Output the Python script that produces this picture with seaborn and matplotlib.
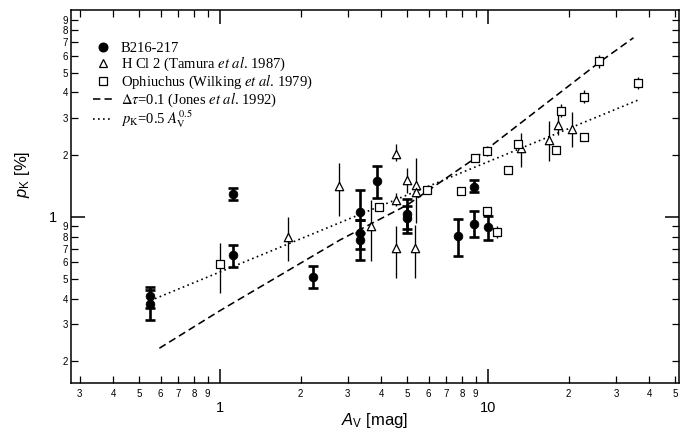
import numpy as np
import pandas as pd
import matplotlib
matplotlib.use("Agg")
import matplotlib.pyplot as plt
import seaborn as sns
from matplotlib.ticker import FixedLocator, FixedFormatter
from matplotlib.lines import Line2D

# ---------------- data ----------------
# B216-217 (filled circles)
b216_av = [0.55, 0.55, 1.115, 1.115, 2.23, 3.33, 3.33, 3.33, 3.86, 4.97, 4.97, 7.75, 8.87, 8.87, 9.98]
b216_pk = [0.41, 0.375, 1.29, 0.65, 0.51, 1.05, 0.83, 0.77, 1.49, 1.03, 0.99, 0.81, 0.925, 1.40, 0.89]
b216_lo = [0.36, 0.314, 1.20, 0.57, 0.45, 0.967, 0.70, 0.618, 1.23, 0.87, 0.83, 0.647, 0.797, 1.31, 0.773]
b216_hi = [0.457, 0.44, 1.378, 0.73, 0.574, 1.34, 0.967, 0.833, 1.755, 1.22, 1.13, 0.974, 1.06, 1.51, 1.01]

# H Cl 2 (Tamura et al. 1987) (open triangles)
hcl_av = [1.80, 2.78, 3.67, 4.52, 4.55, 4.97, 5.39, 5.39, 4.54, 5.34, 13.3, 16.9, 18.3, 20.5]
hcl_pk = [0.80, 1.41, 0.90, 2.02, 1.21, 1.51, 1.43, 1.31, 0.705, 0.705, 2.15, 2.36, 2.78, 2.67]
hcl_lo = [0.607, 1.01, 0.607, 1.86, 1.13, 1.30, 1.25, 0.93, 0.504, 0.504, 1.75, 1.86, 2.50, 2.18]
hcl_hi = [1.0, 1.82, 1.21, 2.24, 1.30, 1.72, 1.93, 1.45, 0.897, 0.915, 2.55, 2.90, 3.15, 3.20]

# Ophiuchus (Wilking et al. 1979) (open squares)
oph_av = [1.0, 3.92, 5.92, 7.91, 8.94, 9.89, 11.9, 12.9, 17.9, 18.8, 22.9, 22.9, 26.0, 36.2, 9.95, 10.8]
oph_pk = [0.59, 1.11, 1.34, 1.33, 1.93, 2.07, 1.69, 2.26, 2.10, 3.27, 2.43, 3.82, 5.68, 4.46, 1.07, 0.84]
oph_lo = [0.426, 1.11, 1.34, 1.33, 1.93, 1.97, 1.69, 2.26, 2.10, 3.05, 2.43, 3.55, 5.27, 4.17, 1.07, 0.788]
oph_hi = [0.745, 1.11, 1.34, 1.33, 1.93, 2.20, 1.69, 2.26, 2.10, 3.50, 2.43, 4.10, 6.10, 4.75, 1.07, 0.897]

# model curves (read points)
jones_av = [0.594, 1.0, 2.8, 5.0, 9.0, 26.0, 34.9]
jones_pk = [0.23, 0.35, 0.77, 1.14, 1.93, 5.6, 7.37]
fit_av = [0.572, 36.2]
fit_pk = [0.40, 3.67]

x_minor_ticks = [0.3, 0.4, 0.5, 0.6, 0.7, 0.8, 0.9, 2, 3, 4, 5, 6, 7, 8, 9, 20, 30, 40, 50]
x_minor_labels = ["3", "4", "5", "6", "7", "8", "9", "2", "3", "4", "5", "6", "7", "8", "9", "2", "3", "4", "5"]
x_major_ticks = [1, 10]
x_major_labels = ["1", "10"]
y_minor_ticks = [0.2, 0.3, 0.4, 0.5, 0.6, 0.7, 0.8, 0.9, 2, 3, 4, 5, 6, 7, 8, 9]
y_minor_labels = ["2", "3", "4", "5", "6", "7", "8", "9", "2", "3", "4", "5", "6", "7", "8", "9"]
y_major_ticks = [1]
y_major_labels = ["1"]

legend_labels = [
    "B216-217",
    r"H Cl 2 (Tamura $\mathit{et\ al}$. 1987)",
    r"Ophiuchus (Wilking $\mathit{et\ al}$. 1979)",
    r"$\Delta\tau$=0.1 (Jones $\mathit{et\ al}$. 1992)",
    r"$p_{\mathrm{K}}$=0.5 $A_{\mathrm{V}}^{0.5}$",
]

# ---------------- style ----------------
sns.set_theme(style="ticks")
plt.rcParams['font.family'] = ['Liberation Sans', 'DejaVu Sans']
plt.rcParams['mathtext.fontset'] = 'custom'
plt.rcParams['mathtext.rm'] = 'Liberation Sans'
plt.rcParams['mathtext.it'] = 'Liberation Sans:italic'
plt.rcParams['mathtext.bf'] = 'Liberation Sans:bold'
plt.rcParams['axes.linewidth'] = 1.1

DASH = (0, (4.6, 2.6))
DOT = (0, (1.0, 2.0))

fig = plt.figure(figsize=(6.91, 4.34), dpi=100)
ax = fig.add_axes([71 / 691, 1 - 383 / 434, 608 / 691, 373 / 434])
ax.set_xscale('log')
ax.set_yscale('log')

# model lines
sns.lineplot(x=jones_av, y=jones_pk, ax=ax, color='black', lw=1.15,
             linestyle=DASH, estimator=None, sort=False, zorder=2)
sns.lineplot(x=fit_av, y=fit_pk, ax=ax, color='black', lw=1.2,
             linestyle=DOT, estimator=None, sort=False, zorder=2)

# error bars
b_av = np.array(b216_av); b_pk = np.array(b216_pk)
ax.errorbar(b_av, b_pk, yerr=[b_pk - np.array(b216_lo), np.array(b216_hi) - b_pk],
            fmt='none', ecolor='black', elinewidth=1.9, capsize=3.8, capthick=1.9, zorder=3)
h_av = np.array(hcl_av); h_pk = np.array(hcl_pk)
ax.errorbar(h_av, h_pk, yerr=[h_pk - np.array(hcl_lo), np.array(hcl_hi) - h_pk],
            fmt='none', ecolor='black', elinewidth=0.95, capsize=0, zorder=3)
o_av = np.array(oph_av); o_pk = np.array(oph_pk)
ax.errorbar(o_av, o_pk, yerr=[o_pk - np.array(oph_lo), np.array(oph_hi) - o_pk],
            fmt='none', ecolor='black', elinewidth=0.95, capsize=0, zorder=3)

# markers
sns.scatterplot(x=b216_av, y=b216_pk, ax=ax, marker='o', color='black',
                edgecolor='black', s=40, linewidth=0.5, zorder=4)
sns.scatterplot(x=hcl_av, y=hcl_pk, ax=ax, marker='^', color='white',
                edgecolor='black', s=36, linewidth=0.9, zorder=4)
sns.scatterplot(x=oph_av, y=oph_pk, ax=ax, marker='s', color='white',
                edgecolor='black', s=32, linewidth=0.9, zorder=4)

ax.set_xlim(0.278, 51.6)
ax.set_ylim(0.156, 10.05)

# ticks
ax.xaxis.set_major_locator(FixedLocator(x_major_ticks))
ax.xaxis.set_major_formatter(FixedFormatter(x_major_labels))
ax.xaxis.set_minor_locator(FixedLocator(x_minor_ticks))
ax.xaxis.set_minor_formatter(FixedFormatter(x_minor_labels))
ax.yaxis.set_major_locator(FixedLocator(y_major_ticks))
ax.yaxis.set_major_formatter(FixedFormatter(y_major_labels))
ax.yaxis.set_minor_locator(FixedLocator(y_minor_ticks))
ax.yaxis.set_minor_formatter(FixedFormatter(y_minor_labels))

ax.tick_params(which='both', direction='in', top=True, right=True, color='black', labelcolor='black')
ax.tick_params(which='major', length=10, width=1.1, labelsize=10.5)
ax.tick_params(which='minor', length=5, width=0.9, labelsize=7)
ax.tick_params(axis='x', which='major', pad=13)
ax.tick_params(axis='x', which='minor', pad=4)
ax.tick_params(axis='y', which='major', pad=10)
ax.tick_params(axis='y', which='minor', pad=2)

for s in ax.spines.values():
    s.set_color('black')
    s.set_linewidth(1.1)

ax.set_xlabel(r"$A_{\mathrm{V}}$ [mag]", fontsize=12, color='black')
ax.xaxis.set_label_coords(0.5, -0.074)
ax.set_ylabel(r"$p_{\mathrm{K}}$ [%]", fontsize=12, color='black')
ax.yaxis.set_label_coords(-0.064, 0.56)

# legend
handles = [
    Line2D([], [], marker='o', color='black', linestyle='none', markersize=6.2),
    Line2D([], [], marker='^', markerfacecolor='white', markeredgecolor='black',
           markeredgewidth=0.9, linestyle='none', markersize=6),
    Line2D([], [], marker='s', markerfacecolor='white', markeredgecolor='black',
           markeredgewidth=0.9, linestyle='none', markersize=5.5),
    Line2D([], [], color='black', linestyle=DASH, lw=1.15),
    Line2D([], [], color='black', linestyle=DOT, lw=1.2),
]
leg = ax.legend(handles, legend_labels, loc='upper left',
                bbox_to_anchor=((93 - 71) / 608, (383 - 42) / 373),
                frameon=False, borderpad=0, borderaxespad=0,
                handlelength=1.4, handletextpad=0.5, labelspacing=-0.03,
                prop={'family': 'Liberation Serif', 'size': 10.5})
for t in leg.get_texts():
    t.set_math_fontfamily('stix')
    t.set_color('black')

fig.savefig("out.png", dpi=100, facecolor='white')
